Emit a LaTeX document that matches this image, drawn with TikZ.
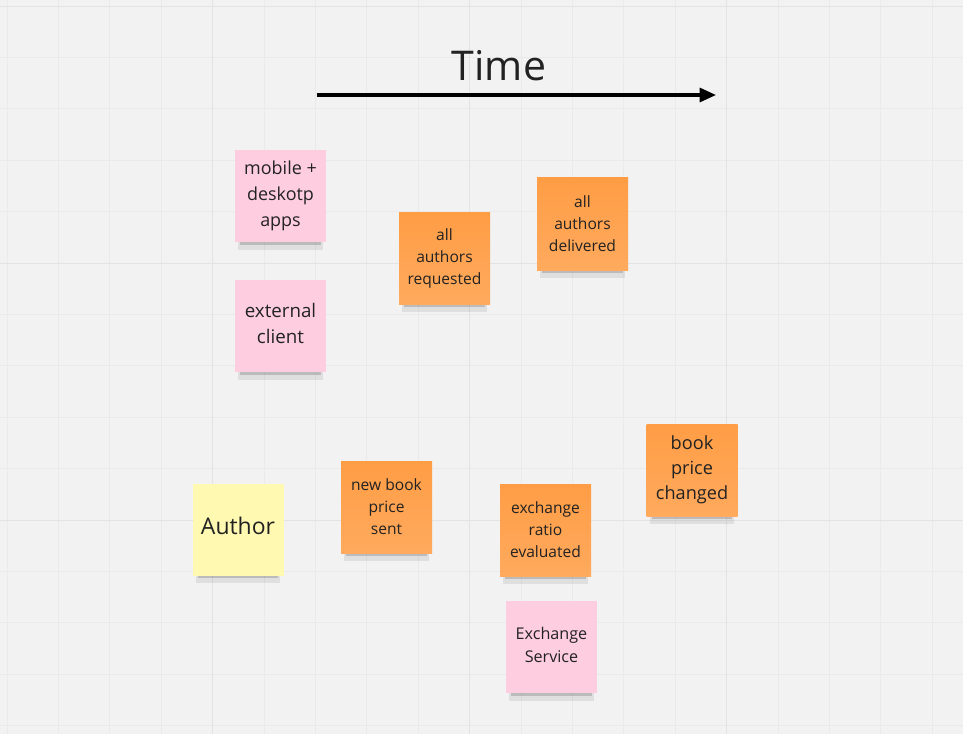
\documentclass[tikz,border=0pt]{standalone}
\usepackage{fontspec}
\setmainfont{Open Sans}
\usetikzlibrary{arrows.meta,shadows}

\definecolor{board}{HTML}{F2F2F2}
\definecolor{minorgrid}{HTML}{EAEAEA}
\definecolor{majorgrid}{HTML}{E3E3E3}
\definecolor{stickypink}{HTML}{FFCDE0}
\definecolor{stickyorangetop}{HTML}{FF9D45}
\definecolor{stickyorangebot}{HTML}{FFAA5E}
\definecolor{stickyyellow}{HTML}{FFF9B1}
\definecolor{stickytext}{HTML}{222222}

\newcommand{\stickyfont}[2]{\fontsize{#1}{#2}\selectfont}

\begin{document}
\begin{tikzpicture}[x=0.03cm,y=-0.03cm]
    \tikzstyle{gridline}=[minorgrid,line width=0.6pt]
    \tikzstyle{majorline}=[majorgrid,line width=0.8pt]
    \tikzstyle{note}=[minimum width=2.73cm,minimum height=2.76cm,inner sep=1pt,align=center,text=stickytext,
        general shadow={fill=black,opacity=.08,shadow scale=.93,shadow yshift=-10pt},
        general shadow={fill=black,opacity=.16,shadow scale=.88,shadow yshift=-8pt}]
    \tikzstyle{pinknote}=[note,fill=stickypink]
    \tikzstyle{orangenote}=[note,top color=stickyorangetop,bottom color=stickyorangebot]
    \tikzstyle{yellownote}=[note,fill=stickyyellow]

    % board and grid
    \fill[board] (0,0) rectangle (963,734);
    \useasboundingbox (0,0) rectangle (963,734);
    \foreach \k in {0,...,18}
        \draw[gridline] ({7+51.4*\k},0) -- ({7+51.4*\k},734);
    \foreach \k in {0,...,14}
        \draw[gridline] (0,{6+51.4*\k}) -- (963,{6+51.4*\k});
    \foreach \k in {4,9,14}
        \draw[majorline] ({7+51.4*\k},0) -- ({7+51.4*\k},734);
    \foreach \k in {0,5,10}
        \draw[majorline] (0,{6+51.4*\k}) -- (963,{6+51.4*\k});

    % time axis
    \node[text=stickytext,font=\stickyfont{35pt}{40pt}] (time) at (499,66) {Time};
    \coordinate (t-start) at (317,95);
    \coordinate (t-end) at (716,95);
    \draw[line width=2.6pt,-{Triangle[length=14pt,width=12pt]}] (t-start) -- (t-end);

    % actors and systems
    \node[pinknote,font=\stickyfont{15.3pt}{22pt}] (apps) at (280.5,196) {mobile +\\deskotp\\apps};
    \node[pinknote,font=\stickyfont{16pt}{22.5pt},text depth=4pt] (client) at (280.5,326) {external\\client};
    \node[yellownote,font=\stickyfont{19.6pt}{24pt},text depth=6pt] (author) at (238,529.5) {Author};
    \node[pinknote,font=\stickyfont{13.8pt}{19.5pt},text depth=4pt] (exchange) at (551.5,647) {Exchange\\Service};

    % events
    \foreach \name/\x/\y/\txt in {requested/444.5/258.5/{all\\authors\\requested},
                                  delivered/582.5/224/{all\\authors\\delivered},
                                  sent/386.5/507/{new book\\price\\sent},
                                  evaluated/545.5/530/{exchange\\ratio\\evaluated}}
        \node[orangenote,font=\stickyfont{13.3pt}{18.8pt}] (\name) at (\x,\y) {\txt};
    \node[orangenote,font=\stickyfont{15.5pt}{21.5pt}] (changed) at (692,470) {book\\price\\changed};
\end{tikzpicture}
\end{document}
